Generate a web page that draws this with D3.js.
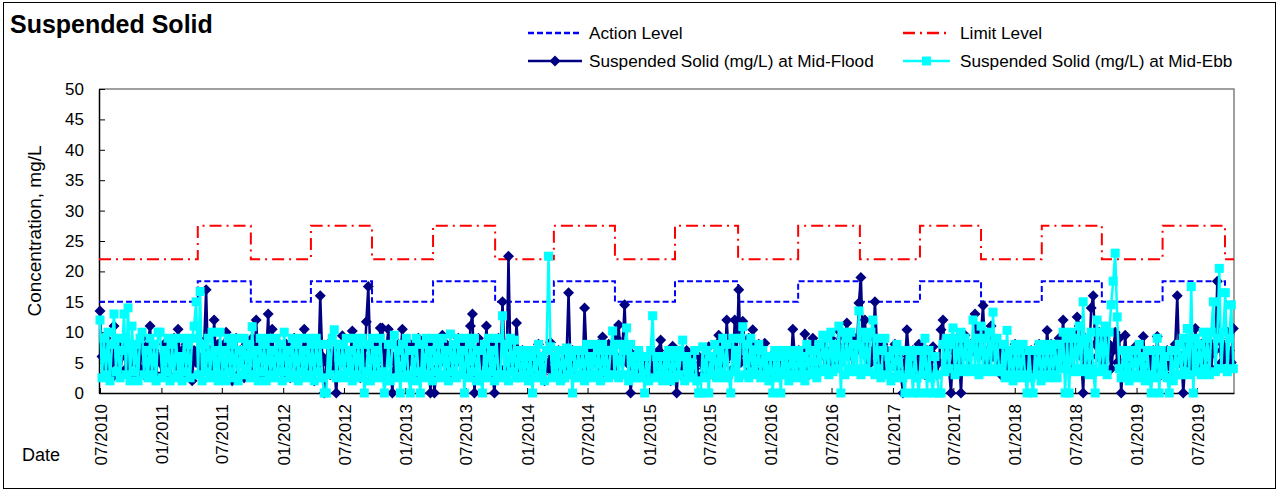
<!DOCTYPE html>
<html><head><meta charset="utf-8">
<script src="https://cdn.jsdelivr.net/npm/d3@7"></script>
<style>
body{margin:0;background:#fff}
svg{display:block;font-family:"Liberation Sans",Arial,sans-serif}
</style>
</head><body>
<svg id="chart" width="1279" height="491"></svg>
<script>
// ---- data ----
const titleText = "Suspended Solid";
const yAxisTitle = "Concentration, mg/L";
const xAxisTitle = "Date";
const seriesNames = ["Action Level","Limit Level","Suspended Solid (mg/L) at Mid-Flood","Suspended Solid (mg/L) at Mid-Ebb"];

const firstSampleDate = "2010-07-01";
const sampleStepDays = 6;

const floodValues = [
13.5,6,3,9,4,7,2.5,11,5,8,3,6,9,4,7,3,8,5,2.5,7,4,9,3,6,8,11,4,7,3,6,
5,3,8,4,7,2.5,6,9,3,10.5,5,7,3,8,4,6,2,7,5,9,3,6,8,17,4,7,3,12,5,8,
6,3,8,10,4,7,2,6,9,3,7,5,2.5,8,4,6,9,3,12,5,7,3,8,6,13,4,10.5,3,7,5,
4,7,3,8,5,2.5,6,9,3,7,5,4,10.5,6,3,8,5,2,7,4,16,6,0,5,8,3,7,4,0,6,
5,9.4,3,7,4,6,10.2,3,8,5,2.5,7,4,11.7,17.5,6,3,8,5,4,10.7,10.7,3,7,10.5,5,0,6,4,8,
6,10.5,4,7,3,8,5,2.5,6,9,4,7,3,5,8,0,6,0,4,7,3,9.5,5,8,4,6,3,7,5,9,
5,8,3,7,4,11,13,0,6,9,3,7,5,11,4,8,3,0,6,9,4,15,7,3,22.5,5,8,4,11.5,6,
4,7,3,6,2.5,5,3,7,4,8,3,6,2,5,4,8.3,3,6,4,7,3,5,2.5,6,16.5,4,7,3,5,6,
5,3,14,6,4,7,3,7.7,5,8,4,9.2,6,3,8,5,7,4,9,11.2,6,8,14.5,5,7,0,4,6,6.5,3,
4,6,3,5,2.5,6,4,3,5,7,8.7,4,6,3,5,2,7.7,4,0,5,3,6,4,7,3,5,6,4,3,6,
5,3,6,4,7.6,5,3,6,8,9.5,4,7,5,12,6,8,4,12,7,17,5,11.8,8,6,9,4,10.4,7,5,8,
6,4,8.2,5,3,6,4,5,6.2,3,5,4,6,3,5,4,10.5,6,3,7,5,4,9.7,6,3,7,9,5,4,7,
6,8,4,7,5,9,6,4,8,10.2,5,7,9,11.5,6,8,4,9,7,14.8,19,8,12,6,9,5,7,15,8,6,
5,8,4,7,3,6,5,8,4,6,3,0,5,10.4,6,4,7,3,5,8,4,6,3,7,5,4,7.6,6,3,5,
10.4,12,5,8,4,0,7,5,9,6,0,8,9.5,6,4,8,7,13,9,6,10,14.4,7,5,9,11,6,8,4,7,
3,6,4,7,5,3,6,8,4,5,7,3,6,4,5,7,3,6,4,8,5,7,4,10.3,6,8,5,4,7,9,
7,12,5,8,6,9,4,8,12.5,11,6,0,9,7,5,14,16,8,6,10,7,5,9,6,8,4,7,10,5,9,
0,5,9.5,4,6,3,7,7.6,5,3,6,9.3,4,6,3,5,7,4,9.3,5,3,6,4,7,5,3,6,8,16,5,
6,0,5,8,4,7,5,10.6,6,4,8,5,7,9.5,6,4,8,7,18.4,9,5,8,6,10,7,5,10.6
];

const ebbValues = [
12,2.5,9,3,10,2,8,13,3.5,9,2.5,7,13,3,14,2,11,3.5,8,2,9,10,3,7,2.5,9,3,8,2,10,
10,2.5,7,3.5,9,2,8,2.5,9,3,6,2,9,3.5,8,2.5,9,11,15,3,16.7,2,8,3.5,9,2.5,10,3,7,2,
10,3,7,2,9,3.5,8,2.5,9,2,7,3,9,4,8,2.5,10.9,3,7,2,9,3.5,8,2,9,3,7,2.5,9,3.5,
8,2,10,3.5,7,2.5,9,3,8,2,9,3.5,7,2.5,9,3,8,2,9,3.5,8,2.5,0,0,8,3,9,10.4,2.5,8,
3,8,2.5,9,3.5,7,2,9,3,8,2.5,9,0,3.5,8,2,9,3,7,2.5,9,3.5,0,3,8,2,8,9.5,2.5,7,
0,8,2.5,9,3,0,7,2,9,3.5,0,8,2.5,9,3,7,2,9,3.5,8,2.5,9,3,7,2,9.7,3.5,8,2.5,9,
3,7,0,9,2.5,8,3.5,9,2,7,3,0,8,2.5,9,3.5,7,2,9,3,2.5,12.7,3,8,2,9,3.5,8.7,2.5,7,
2.5,6,3,7,2,6,0,7,2.5,8,3,6,2,7,22.5,7.6,2.5,6,3,7,2,7,2.5,7.4,3,6,0,7,2.5,7,
3,7,2,8,3,6,2.5,8,3,7,2,8,3.5,7,2.5,7,10.2,3,8,2.5,8,3,7,10.7,2,8,3,6,2.5,7,
2.5,6,0,6,2,7,12.7,2.5,6,3,6,2,6,3,7,2,6,2.5,7,3,6,8.7,2,6,3,5,2.5,7,2,0,
0,7.6,2.5,7,0,6,3,8,2.5,7,3.5,9,2.5,8,3,0,9,3.5,7,2.5,9,10.9,3,8,2.5,9,3.5,7.1,3,8,
2.5,7,3,6,2,6,0,7,2.5,6,0,7,3,6.2,2,7,3,6,2.5,7,3,6,2,8,3,7,3.5,7,2.5,8,
3.5,9.5,4,9,3,10,3.5,8,4,11,0,10,3,9,4,10,3.5,8,4,13.5,3,10,4,9,3.5,10,12,3,9,4,
2.5,7,9,3,6,2,7,2.5,8,3,7,2.5,0,7,3,6,0,7,2.5,0,7,3,9,0,7,2.5,0,6,3,0,
0,8,3.5,9,4,8,10.7,3,9,4,10,3.5,9,4,8,3.5,12,4,9,3,11,4,9,3.5,10,4,13.3,3.5,9,4,
3.5,8,2.5,10.3,3,7,2,8,3,7,2.5,8,3,0,7,2.5,0,7,3,8,2,7,3,8,2.5,7,3,8,2.5,8,
4,10,0,9,0,10,3.5,9,4,11,3.5,15,4,9,3,10,4,0,12,3.5,10,4,11,3,10,14.5,18.4,23,12.5,4,
2.5,7,3,6,2,7,3,7,2.5,8,3,6,2,7,3,0,7,2.5,9,0,7,3,6,2.5,0,7,2,7,3,8,
3,9,3.5,10.6,3,17.5,0,9,3.5,8,3,10,4,9,3,10,15,3.5,9,20.5,4,10,16.5,3.5,9,14.5,4
];

const levelDates = ["2010-06-28","2011-04-20","2011-09-26","2012-03-24","2012-09-23","2013-03-25","2013-09-27","2014-03-22","2014-09-21","2015-03-20","2015-09-25","2016-03-23","2016-09-24","2017-03-23","2017-09-22","2018-03-23","2018-09-19","2019-03-20","2019-09-23","2019-10-20"];
const actionLevel = [15,18.4,15,18.4,15,18.4,15,18.4,15,18.4,15,18.4,15,18.4,15,18.4,15,18.4,15,15];
const limitLevel  = [22,27.5,22,27.5,22,27.5,22,27.5,22,27.5,22,27.5,22,27.5,22,27.5,22,27.5,22,22];

const xDomain = ["2010-06-28","2019-10-20"];
const xTickDates = ["2010-07-01","2011-01-01","2011-07-01","2012-01-01","2012-07-01","2013-01-01","2013-07-01","2014-01-01","2014-07-01","2015-01-01","2015-07-01","2016-01-01","2016-07-01","2017-01-01","2017-07-01","2018-01-01","2018-07-01","2019-01-01","2019-07-01"];
const yTicks = [0,5,10,15,20,25,30,35,40,45,50];

// ---- drawing ----
const parse = d3.utcParse("%Y-%m-%d");
const svg = d3.select("#chart");
const W = 1279, H = 491;
const plot = {left:99, right:1234, top:89, bottom:393};

svg.append("rect").attr("x",3.5).attr("y",2.5).attr("width",W-7).attr("height",H-5)
  .attr("fill","#fff").attr("stroke","#000").attr("stroke-width",1);

const x = d3.scaleUtc().domain(xDomain.map(parse)).range([plot.left, plot.right]);
const y = d3.scaleLinear().domain([0,50]).range([plot.bottom, plot.top]);

const start = parse(firstSampleDate);
const flood = floodValues.map((v,i)=>({d:d3.utcDay.offset(start, i*sampleStepDays), v}));
const ebb = ebbValues.map((v,i)=>({d:d3.utcDay.offset(start, i*sampleStepDays), v}));
const action = levelDates.map((s,i)=>({d:parse(s), v:actionLevel[i]}));
const limit = levelDates.map((s,i)=>({d:parse(s), v:limitLevel[i]}));

// frame top/right (gray)
svg.append("path").attr("d",`M${plot.left},${plot.top}H${plot.right}V${plot.bottom}`)
  .attr("fill","none").attr("stroke","#808080").attr("stroke-width",1.5);

// axes
const yAxis = d3.axisLeft(y).tickValues(yTicks).tickSizeInner(-6).tickSizeOuter(0).tickPadding(15);
const gy = svg.append("g").attr("transform",`translate(${plot.left},0)`).call(yAxis);
gy.selectAll("text").attr("font-size",17).attr("fill","#000").attr("font-family","Liberation Sans, Arial, sans-serif");

const xAxis = d3.axisBottom(x).tickValues(xTickDates.map(parse)).tickFormat(d3.utcFormat("%m/%Y"))
  .tickSizeInner(-5).tickSizeOuter(0);
const gx = svg.append("g").attr("transform",`translate(0,${plot.bottom})`).call(xAxis);
gx.selectAll("text").attr("font-size",17).attr("fill","#000").attr("font-family","Liberation Sans, Arial, sans-serif")
  .attr("transform","rotate(-90)").attr("text-anchor","end").attr("x",-11).attr("y",0).attr("dy","0.36em");

[gx,gy].forEach(g=>{g.select(".domain").attr("stroke","#000").attr("stroke-width",1.5);
  g.selectAll(".tick line").attr("stroke","#000").attr("stroke-width",1);});

// level lines
const stepLine = d3.line().x(d=>x(d.d)).y(d=>y(d.v)).curve(d3.curveStepAfter);
svg.append("path").datum(action).attr("d",stepLine).attr("fill","none")
  .attr("stroke","#0000FF").attr("stroke-width",2).attr("stroke-dasharray","6,3");
svg.append("path").datum(limit).attr("d",stepLine).attr("fill","none")
  .attr("stroke","#FF0000").attr("stroke-width",2).attr("stroke-dasharray","12,5,2,5");

// series
const line = d3.line().x(d=>x(d.d)).y(d=>y(d.v));
const diamond = "M0,-5.5L5.5,0L0,5.5L-5.5,0Z";
const navy = "#000080", cyan = "#00FFFF";

svg.append("path").datum(flood).attr("d",line).attr("fill","none").attr("stroke",navy).attr("stroke-width",2.5);
svg.append("g").selectAll("path").data(flood).join("path")
  .attr("d",diamond).attr("transform",d=>`translate(${x(d.d)},${y(d.v)})`).attr("fill",navy);

svg.append("path").datum(ebb).attr("d",line).attr("fill","none").attr("stroke",cyan).attr("stroke-width",2.5);
svg.append("g").selectAll("rect").data(ebb).join("rect")
  .attr("x",d=>x(d.d)-4.5).attr("y",d=>y(d.v)-4.5).attr("width",9).attr("height",9).attr("fill",cyan);

// titles
svg.append("text").attr("x",10).attr("y",33).attr("font-size",25).attr("font-weight","bold").text(titleText);
svg.append("text").attr("transform","translate(41,231) rotate(-90)").attr("text-anchor","middle")
  .attr("font-size",19).text(yAxisTitle);
svg.append("text").attr("x",22).attr("y",461).attr("font-size",18).text(xAxisTitle);

// legend
const lg = svg.append("g").attr("font-size",17.2);
const L = [
  {x1:528,x2:582,y:33,tx:589,name:seriesNames[0],stroke:"#0000FF",dash:"6,3",mark:null},
  {x1:903,x2:950,y:33,tx:960,name:seriesNames[1],stroke:"#FF0000",dash:"12,5,2,5",mark:null},
  {x1:528,x2:582,y:61,tx:589,name:seriesNames[2],stroke:navy,dash:null,mark:"diamond"},
  {x1:903,x2:950,y:61,tx:960,name:seriesNames[3],stroke:cyan,dash:null,mark:"square"}
];
L.forEach(e=>{
  lg.append("line").attr("x1",e.x1).attr("x2",e.x2).attr("y1",e.y).attr("y2",e.y)
    .attr("stroke",e.stroke).attr("stroke-width",2.5).attr("stroke-dasharray",e.dash);
  const cx=(e.x1+e.x2)/2;
  if(e.mark==="diamond") lg.append("path").attr("d",diamond).attr("transform",`translate(${cx},${e.y})`).attr("fill",navy);
  if(e.mark==="square") lg.append("rect").attr("x",cx-4.5).attr("y",e.y-4.5).attr("width",9).attr("height",9).attr("fill",cyan);
  lg.append("text").attr("x",e.tx).attr("y",e.y+6).text(e.name);
});
</script>
</body></html>
